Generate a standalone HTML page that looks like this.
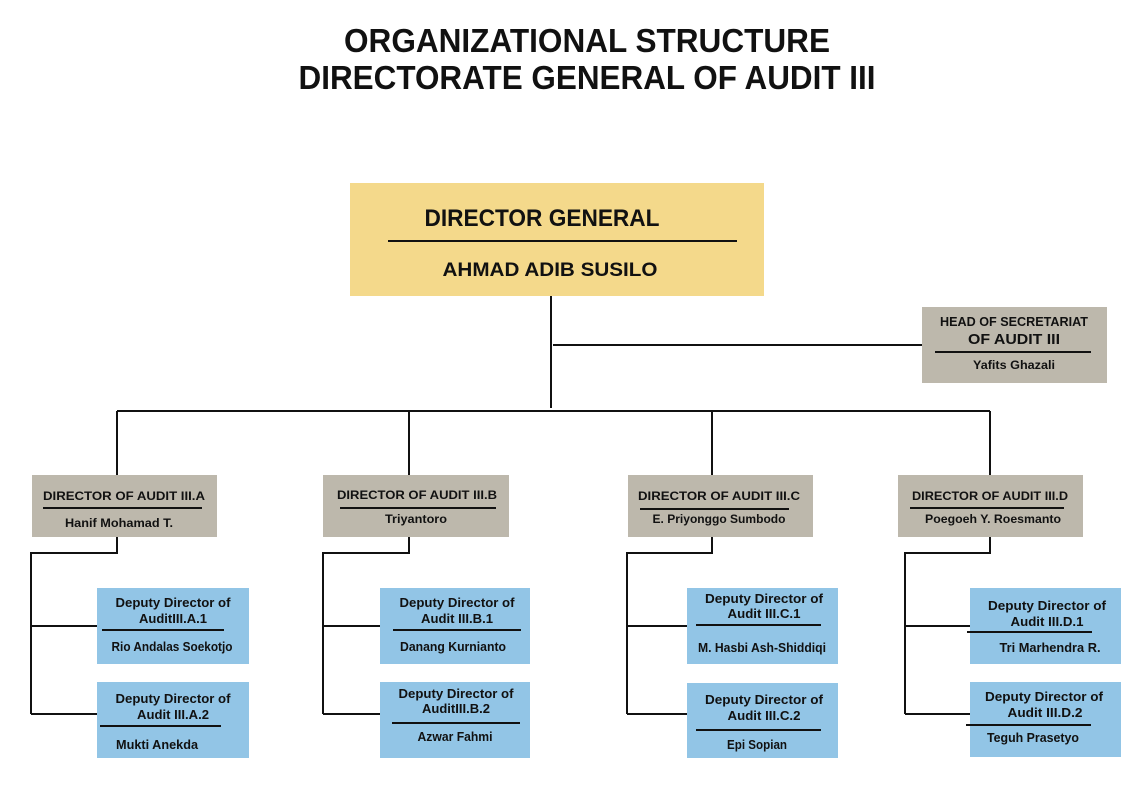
<!DOCTYPE html>
<html><head><meta charset="utf-8"><style>
html,body{margin:0;padding:0;background:#fff;}
svg{display:block;}
text{font-family:"Liberation Sans",sans-serif;font-weight:bold;fill:#111;text-anchor:middle;}
</style></head><body>
<svg width="1143" height="788" viewBox="0 0 1143 788" xmlns="http://www.w3.org/2000/svg">
<rect width="1143" height="788" fill="#fff"/>
<text x="587" y="52" font-size="33" textLength="486" lengthAdjust="spacingAndGlyphs">ORGANIZATIONAL STRUCTURE</text>
<text x="587" y="89" font-size="33" textLength="577" lengthAdjust="spacingAndGlyphs">DIRECTORATE GENERAL OF AUDIT III</text>

<g stroke="#111" stroke-width="2" fill="none">
<path d="M551 296V408M553 345H922M117 411H990M117 411V475M409 411V475M712 411V475M990 411V475"/>
<path d="M117 537V553H31V714M31 626H97M31 714H97"/>
<path d="M409 537V553H323V714M323 626H380M323 714H380"/>
<path d="M712 537V553H627V714M627 626H687M627 714H687"/>
<path d="M990 537V553H905V714M905 626H970M905 714H970"/>
</g>

<rect x="350" y="183" width="414" height="113" fill="#f4d98b"/>
<text x="542" y="226" font-size="24" textLength="235" lengthAdjust="spacingAndGlyphs">DIRECTOR GENERAL</text>
<line x1="388" y1="241" x2="737" y2="241" stroke="#111" stroke-width="2"/>
<text x="550" y="276" font-size="19" textLength="215" lengthAdjust="spacingAndGlyphs">AHMAD ADIB SUSILO</text>

<rect x="922" y="307" width="185" height="76" fill="#bdb8ac"/>
<text x="1014" y="326" font-size="13" textLength="148" lengthAdjust="spacingAndGlyphs">HEAD OF SECRETARIAT</text>
<text x="1014" y="344" font-size="15" textLength="92" lengthAdjust="spacingAndGlyphs">OF AUDIT III</text>
<line x1="935" y1="352" x2="1091" y2="352" stroke="#111" stroke-width="2"/>
<text x="1014" y="369" font-size="12" textLength="82" lengthAdjust="spacingAndGlyphs">Yafits Ghazali</text>

<g font-size="12">
<rect x="32" y="475" width="185" height="62" fill="#bdb8ac"/>
<text x="124" y="500" textLength="162" lengthAdjust="spacingAndGlyphs">DIRECTOR OF AUDIT III.A</text>
<line x1="43" y1="508" x2="202" y2="508" stroke="#111" stroke-width="2"/>
<text x="119" y="527" textLength="108" lengthAdjust="spacingAndGlyphs">Hanif Mohamad T.</text>

<rect x="323" y="475" width="186" height="62" fill="#bdb8ac"/>
<text x="417" y="499" textLength="160" lengthAdjust="spacingAndGlyphs">DIRECTOR OF AUDIT III.B</text>
<line x1="340" y1="508" x2="496" y2="508" stroke="#111" stroke-width="2"/>
<text x="416" y="523" textLength="62" lengthAdjust="spacingAndGlyphs">Triyantoro</text>

<rect x="628" y="475" width="185" height="62" fill="#bdb8ac"/>
<text x="719" y="500" textLength="162" lengthAdjust="spacingAndGlyphs">DIRECTOR OF AUDIT III.C</text>
<line x1="640" y1="509" x2="789" y2="509" stroke="#111" stroke-width="2"/>
<text x="719" y="523" textLength="133" lengthAdjust="spacingAndGlyphs">E. Priyonggo Sumbodo</text>

<rect x="898" y="475" width="185" height="62" fill="#bdb8ac"/>
<text x="990" y="500" textLength="156" lengthAdjust="spacingAndGlyphs">DIRECTOR OF AUDIT III.D</text>
<line x1="910" y1="508" x2="1064" y2="508" stroke="#111" stroke-width="2"/>
<text x="993" y="523" textLength="136" lengthAdjust="spacingAndGlyphs">Poegoeh Y. Roesmanto</text>
</g>

<g font-size="13">
<rect x="97" y="588" width="152" height="76" fill="#92c5e6"/>
<text x="173" y="607" textLength="115" lengthAdjust="spacingAndGlyphs">Deputy Director of</text>
<text x="173" y="623" textLength="68" lengthAdjust="spacingAndGlyphs">AuditIII.A.1</text>
<line x1="102" y1="630" x2="224" y2="630" stroke="#111" stroke-width="2"/>
<text x="172" y="651" textLength="121" lengthAdjust="spacingAndGlyphs">Rio Andalas Soekotjo</text>

<rect x="97" y="682" width="152" height="76" fill="#92c5e6"/>
<text x="173" y="703" textLength="115" lengthAdjust="spacingAndGlyphs">Deputy Director of</text>
<text x="173" y="719" textLength="72" lengthAdjust="spacingAndGlyphs">Audit III.A.2</text>
<line x1="100" y1="726" x2="221" y2="726" stroke="#111" stroke-width="2"/>
<text x="157" y="749" textLength="82" lengthAdjust="spacingAndGlyphs">Mukti Anekda</text>

<rect x="380" y="588" width="150" height="76" fill="#92c5e6"/>
<text x="457" y="607" textLength="115" lengthAdjust="spacingAndGlyphs">Deputy Director of</text>
<text x="457" y="623" textLength="72" lengthAdjust="spacingAndGlyphs">Audit III.B.1</text>
<line x1="393" y1="630" x2="521" y2="630" stroke="#111" stroke-width="2"/>
<text x="453" y="651" textLength="106" lengthAdjust="spacingAndGlyphs">Danang Kurnianto</text>

<rect x="380" y="682" width="150" height="76" fill="#92c5e6"/>
<text x="456" y="698" textLength="115" lengthAdjust="spacingAndGlyphs">Deputy Director of</text>
<text x="456" y="713" textLength="68" lengthAdjust="spacingAndGlyphs">AuditIII.B.2</text>
<line x1="392" y1="723" x2="520" y2="723" stroke="#111" stroke-width="2"/>
<text x="455" y="741" textLength="75" lengthAdjust="spacingAndGlyphs">Azwar Fahmi</text>

<rect x="687" y="588" width="151" height="76" fill="#92c5e6"/>
<text x="764" y="603" textLength="118" lengthAdjust="spacingAndGlyphs">Deputy Director of</text>
<text x="764" y="618" textLength="73" lengthAdjust="spacingAndGlyphs">Audit III.C.1</text>
<line x1="696" y1="625" x2="821" y2="625" stroke="#111" stroke-width="2"/>
<text x="762" y="652" textLength="128" lengthAdjust="spacingAndGlyphs">M. Hasbi Ash-Shiddiqi</text>

<rect x="687" y="683" width="151" height="75" fill="#92c5e6"/>
<text x="764" y="704" textLength="118" lengthAdjust="spacingAndGlyphs">Deputy Director of</text>
<text x="764" y="720" textLength="73" lengthAdjust="spacingAndGlyphs">Audit III.C.2</text>
<line x1="696" y1="730" x2="821" y2="730" stroke="#111" stroke-width="2"/>
<text x="757" y="749" textLength="60" lengthAdjust="spacingAndGlyphs">Epi Sopian</text>

<rect x="970" y="588" width="151" height="76" fill="#92c5e6"/>
<text x="1047" y="610" textLength="118" lengthAdjust="spacingAndGlyphs">Deputy Director of</text>
<text x="1047" y="626" textLength="73" lengthAdjust="spacingAndGlyphs">Audit III.D.1</text>
<line x1="967" y1="632" x2="1092" y2="632" stroke="#111" stroke-width="2"/>
<text x="1050" y="652" textLength="101" lengthAdjust="spacingAndGlyphs">Tri Marhendra R.</text>

<rect x="970" y="682" width="151" height="75" fill="#92c5e6"/>
<text x="1044" y="701" textLength="118" lengthAdjust="spacingAndGlyphs">Deputy Director of</text>
<text x="1045" y="717" textLength="75" lengthAdjust="spacingAndGlyphs">Audit III.D.2</text>
<line x1="966" y1="725" x2="1091" y2="725" stroke="#111" stroke-width="2"/>
<text x="1033" y="742" textLength="92" lengthAdjust="spacingAndGlyphs">Teguh Prasetyo</text>
</g>
</svg>
</body></html>
